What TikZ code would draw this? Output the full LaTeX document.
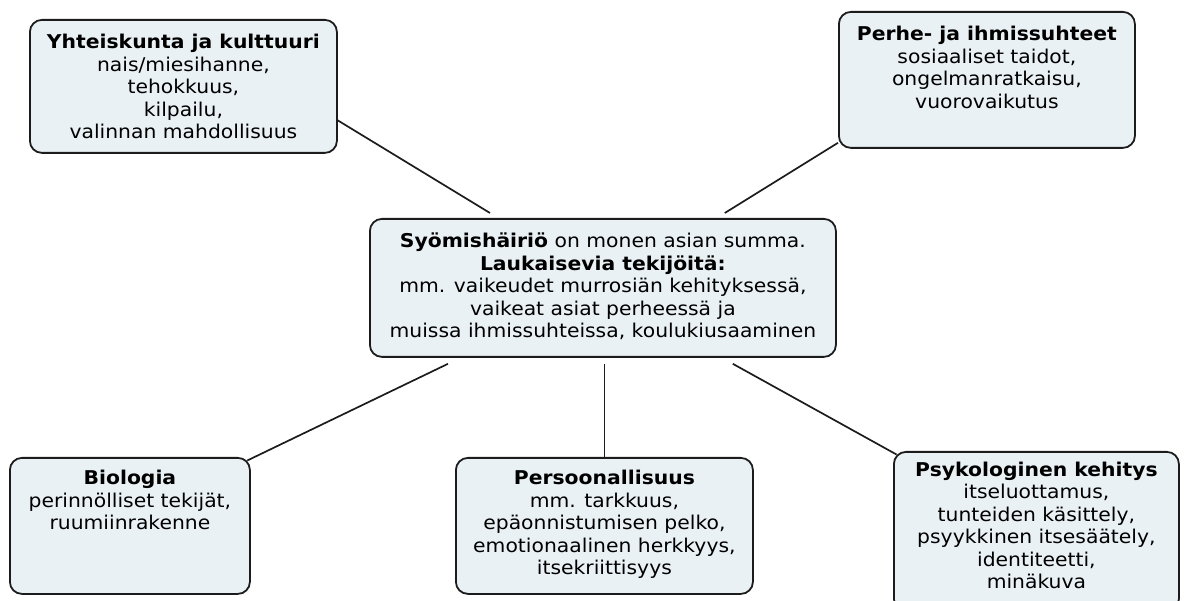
\documentclass[tikz,border=0pt]{standalone}
\usepackage{fontspec}
\setmainfont[FakeStretch=1.07]{DejaVu Sans}
\usepackage{tikz}
\usetikzlibrary{positioning}
\definecolor{boxfill}{HTML}{EAF1F4}
\definecolor{boxline}{HTML}{1C1C1C}

\tikzset{
  aihe/.style={draw=boxline,fill=boxfill,line width=1.8pt,rounded corners=12pt,
    align=center,anchor=north west,inner xsep=4pt,inner ysep=0pt,
    font=\fontsize{19}{22.5}\selectfont},
  yhteys/.style={draw=boxline,line width=1.7pt}
}

\begin{document}
\begin{tikzpicture}[x=1pt,y=-1pt]
  \useasboundingbox (0,0) rectangle (1184,601);
  % ylarivi
  \node[aihe,minimum width=307pt,text height=119pt,text depth=14pt] (yht) at (29,19)
    {\textbf{Yhteiskunta ja kulttuuri}\\nais/miesihanne,\\tehokkuus,\\kilpailu,\\valinnan mahdollisuus};
  \node[aihe,minimum width=296pt,text height=96.5pt,text depth=39.5pt] (perhe) at (838,11)
    {\textbf{Perhe- ja ihmissuhteet}\\sosiaaliset taidot,\\ongelmanratkaisu,\\vuorovaikutus};
  % keskus
  \node[aihe,minimum width=466pt,text height=119pt,text depth=19pt] (syo) at (369,218)
    {\textbf{Syömishäiriö} on monen asian summa.\\\textbf{Laukaisevia tekijöitä:}\\mm. vaikeudet murrosiän kehityksessä,\\vaikeat asiat perheessä ja\\muissa ihmissuhteissa, koulukiusaaminen};
  % alarivi
  \node[aihe,minimum width=240pt,text height=72pt,text depth=64pt] (bio) at (9,457)
    {\textbf{Biologia}\\perinnölliset tekijät,\\ruumiinrakenne};
  \node[aihe,minimum width=297pt,text height=117pt,text depth=19pt] (pers) at (455,457)
    {\textbf{Persoonallisuus}\\mm. tarkkuus,\\epäonnistumisen pelko,\\emotionaalinen herkkyys,\\itsekriittisyys};
  \node[aihe,minimum width=285pt,text height=137pt,text depth=22pt] (psyk) at (893,451)
    {\textbf{Psykologinen kehitys}\\itseluottamus,\\tunteiden käsittely,\\psyykkinen itsesäätely,\\identiteetti,\\minäkuva};
  % yhteydet
  \draw[yhteys] ([yshift=-34pt]yht.east) -- ([xshift=121pt,yshift=5pt]syo.north west);
  \draw[yhteys] ([yshift=6pt]perhe.south west) -- ([xshift=-112pt,yshift=5pt]syo.north east);
  \draw[yhteys] ([xshift=79pt,yshift=-6pt]syo.south west) -- ([xshift=-3.5pt,yshift=-3.5pt]bio.north east);
  \draw[yhteys] ([xshift=1.5pt,yshift=-6pt]syo.south) -- (pers.north);
  \draw[yhteys] ([xshift=-104pt,yshift=-6pt]syo.south east) -- ([xshift=3.5pt,yshift=-3.5pt]psyk.north west);
\end{tikzpicture}
\end{document}
